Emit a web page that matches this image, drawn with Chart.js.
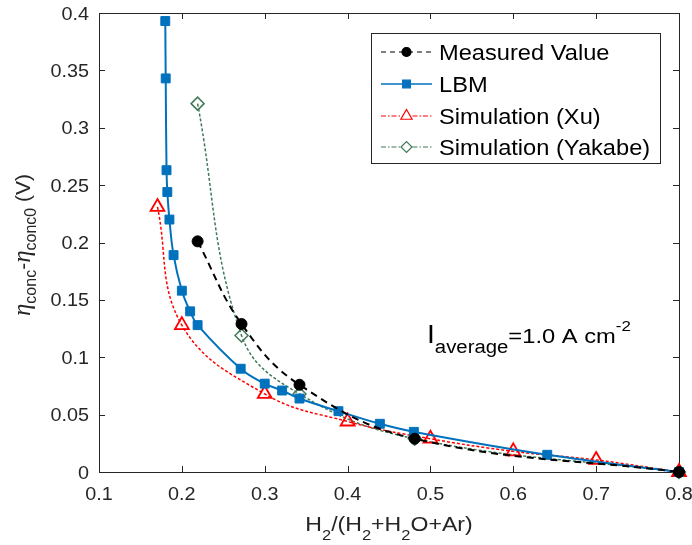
<!DOCTYPE html>
<html>
<head>
<meta charset="utf-8">
<script src="https://cdn.jsdelivr.net/npm/chart.js@4.4.1/dist/chart.umd.min.js"></script>
<style>
html, body { margin: 0; padding: 0; background: #fff; }
#wrap { width: 692px; height: 545px; position: relative; }
</style>
</head>
<body>
<div id="wrap"><canvas id="chart"></canvas></div>
<script>
// values
const measuredX = [0.219, 0.272, 0.342, 0.481, 0.8];
const measuredY = [0.201, 0.129, 0.076, 0.029, 0.0];

const lbmX = [0.180, 0.1805, 0.1815, 0.1825, 0.185, 0.190, 0.200, 0.210, 0.219, 0.271, 0.300, 0.321, 0.342, 0.389, 0.439, 0.480, 0.641, 0.8];
const lbmY = [0.393, 0.343, 0.263, 0.244, 0.220, 0.189, 0.158, 0.140, 0.128, 0.090, 0.077, 0.071, 0.064, 0.053, 0.042, 0.035, 0.015, 0.0];

const xuX = [0.1706, 0.2, 0.3, 0.4, 0.5, 0.6, 0.7, 0.8];
const xuY = [0.231, 0.128, 0.068, 0.044, 0.029, 0.018, 0.0105, 0.0];

const yakabeX = [0.219, 0.272, 0.342, 0.481, 0.8];
const yakabeY = [0.321, 0.119, 0.068, 0.029, 0.0];

const xTicks = [0.1, 0.2, 0.3, 0.4, 0.5, 0.6, 0.7, 0.8];
const yTicks = [0, 0.05, 0.1, 0.15, 0.2, 0.25, 0.3, 0.35, 0.4];

const seriesNames = ["Measured Value", "LBM", "Simulation (Xu)", "Simulation (Yakabe)"];

const AXIS = "#262626";
const SANS = '"Liberation Sans", Arial, sans-serif';
const SX = 1.1; // reference text is a bit wider than Arial

function pts(xs, ys) {
    return xs.map((x, i) => ({ x: x, y: ys[i] }));
}

function fmt(v) {
    return String(parseFloat(v.toFixed(2)));
}

// draw text made of runs: [text, size, dy, family, style]
function drawRuns(ctx, runs, x, y, align, sx) {
    let w = 0;
    runs.forEach(r => {
        ctx.font = (r[4] || "") + " " + r[1] + "px " + (r[3] || SANS);
        w += ctx.measureText(r[0]).width;
    });
    ctx.save();
    ctx.translate(x, y);
    ctx.scale(sx, 1);
    ctx.textAlign = "left";
    ctx.textBaseline = "alphabetic";
    let cx = align === "center" ? -w / 2 : (align === "right" ? -w : 0);
    runs.forEach(r => {
        ctx.font = (r[4] || "") + " " + r[1] + "px " + (r[3] || SANS);
        ctx.fillText(r[0], cx, r[2]);
        cx += ctx.measureText(r[0]).width;
    });
    ctx.restore();
}

const datasets = [
    {
        label: seriesNames[0],
        data: pts(measuredX, measuredY),
        borderColor: "#000000",
        backgroundColor: "#000000",
        borderWidth: 2,
        borderDash: [7, 5],
        pointStyle: "circle",
        pointRadius: 5.5,
        pointBorderWidth: 1
    },
    {
        label: seriesNames[1],
        data: pts(lbmX, lbmY),
        borderColor: "#0072BD",
        backgroundColor: "#0072BD",
        borderWidth: 2,
        borderDash: [],
        pointStyle: "rect",
        pointRadius: 6.3,
        pointBorderWidth: 1
    },
    {
        label: seriesNames[2],
        data: pts(xuX, xuY),
        borderColor: "#FF0000",
        backgroundColor: "rgba(255,255,255,0)",
        borderWidth: 1.5,
        borderDash: [3, 2],
        pointStyle: "triangle",
        pointRadius: 8,
        pointBorderWidth: 1.8
    },
    {
        label: seriesNames[3],
        data: pts(yakabeX, yakabeY),
        borderColor: "#3E7A57",
        backgroundColor: "rgba(255,255,255,0)",
        borderWidth: 1.5,
        borderDash: [3, 2],
        pointStyle: "rectRot",
        pointRadius: 6.5,
        pointBorderWidth: 1.5
    }
];
datasets.forEach(d => {
    d.showLine = true;
    d.fill = false;
    d.clip = false;
    d.tension = 0.4;
    d.pointBackgroundColor = d.backgroundColor;
    d.pointBorderColor = d.borderColor;
});

// legend samples are thinner and smaller than the plotted marks
const legendDash = [[5, 4], [], [5, 2, 1.5, 2], [5, 2, 1.5, 2]];
const legendRadius = [4.5, 5.5, 6.5, 5.5];

const framePlugin = {
    id: "frame",
    beforeDatasetsDraw(chart) {
        const ctx = chart.ctx;
        const a = chart.chartArea;
        const xs = chart.scales.x, ys = chart.scales.y;
        ctx.save();
        ctx.strokeStyle = AXIS;
        ctx.lineWidth = 1;
        ctx.strokeRect(Math.round(a.left) + 0.5, Math.round(a.top) + 0.5,
            Math.round(a.right - a.left), Math.round(a.bottom - a.top));
        const tl = 6;
        ctx.beginPath();
        xTicks.forEach(v => {
            const px = Math.round(xs.getPixelForValue(v)) + 0.5;
            ctx.moveTo(px, a.bottom); ctx.lineTo(px, a.bottom - tl);
            ctx.moveTo(px, a.top); ctx.lineTo(px, a.top + tl);
        });
        yTicks.forEach(v => {
            const py = Math.round(ys.getPixelForValue(v)) + 0.5;
            ctx.moveTo(a.left, py); ctx.lineTo(a.left + tl, py);
            ctx.moveTo(a.right, py); ctx.lineTo(a.right - tl, py);
        });
        ctx.stroke();

        // tick labels
        ctx.fillStyle = AXIS;
        xTicks.forEach(v => {
            drawRuns(ctx, [[fmt(v), 18, 0]], xs.getPixelForValue(v), a.bottom + 28, "center", SX);
        });
        yTicks.forEach(v => {
            drawRuns(ctx, [[fmt(v), 18, 0]], a.left - 10, ys.getPixelForValue(v) + 6.5, "right", SX);
        });

        // axis titles
        drawRuns(ctx, [
            ["H", 21, 0], ["2", 15, 9], ["/(H", 21, 0], ["2", 15, 9],
            ["+H", 21, 0], ["2", 15, 9], ["O+Ar)", 21, 0]
        ], (a.left + a.right) / 2, 531, "center", SX);

        ctx.save();
        ctx.translate(30, 245);
        ctx.rotate(-Math.PI / 2);
        const serif = '"Liberation Serif", "DejaVu Serif", serif';
        drawRuns(ctx, [
            ["η", 25, 0, serif, "italic"], ["conc", 16, 6], ["-", 21, 0],
            ["η", 25, 0, serif, "italic"], ["conc0", 16, 6], [" (V)", 21, 0]
        ], 0, 0, "center", 1);
        ctx.restore();
        ctx.restore();
    },
    afterDatasetsDraw(chart) {
        const ctx = chart.ctx;
        ctx.save();
        // annotation
        ctx.fillStyle = "#000000";
        drawRuns(ctx, [
            ["I", 25, 0], ["average", 18, 10], ["=1.0 A cm", 21, 0], ["-2", 15, -12]
        ], 427, 343, "left", 1.13);

        // legend box
        const bx = 371.5, by = 33.5, bw = 289, bh = 130;
        ctx.fillStyle = "#ffffff";
        ctx.fillRect(bx, by, bw, bh);
        ctx.strokeStyle = AXIS;
        ctx.lineWidth = 1;
        ctx.strokeRect(bx, by, bw, bh);
        const rowY = [52, 84, 116, 147];
        chart.data.datasets.forEach((d, i) => {
            const y = rowY[i];
            ctx.save();
            ctx.strokeStyle = d.borderColor;
            ctx.lineWidth = i === 1 ? 1.5 : 1.2;
            ctx.setLineDash(legendDash[i]);
            ctx.beginPath();
            ctx.moveTo(381, y);
            ctx.lineTo(432, y);
            ctx.stroke();
            ctx.setLineDash([]);
            ctx.fillStyle = d.pointStyle === "triangle" || d.pointStyle === "rectRot" ? "#ffffff" : d.backgroundColor;
            ctx.strokeStyle = d.borderColor;
            ctx.lineWidth = 1.2;
            Chart.helpers.drawPoint(ctx, {
                pointStyle: d.pointStyle,
                radius: legendRadius[i],
                rotation: 0,
                borderWidth: 1.2
            }, 406.5, y);
            ctx.restore();
            ctx.fillStyle = "#000000";
            drawRuns(ctx, [[d.label, 21.5, 0]], 439, y + 7.5, "left", SX);
        });
        ctx.restore();
    }
};

new Chart(document.getElementById("chart"), {
    type: "scatter",
    data: { datasets: datasets },
    plugins: [framePlugin],
    options: {
        responsive: true,
        maintainAspectRatio: false,
        animation: false,
        events: [],
        layout: { padding: { left: 0, top: 13, right: 13, bottom: 0 } },
        plugins: { legend: { display: false }, tooltip: { enabled: false } },
        scales: {
            x: {
                type: "linear",
                min: 0.1,
                max: 0.8,
                ticks: { display: false, stepSize: 0.1 },
                grid: { display: false },
                border: { display: false },
                afterFit: s => { s.height = 73; }
            },
            y: {
                type: "linear",
                min: 0,
                max: 0.4,
                ticks: { display: false, stepSize: 0.05 },
                grid: { display: false },
                border: { display: false },
                afterFit: s => { s.width = 99; }
            }
        }
    }
});
</script>
</body>
</html>
